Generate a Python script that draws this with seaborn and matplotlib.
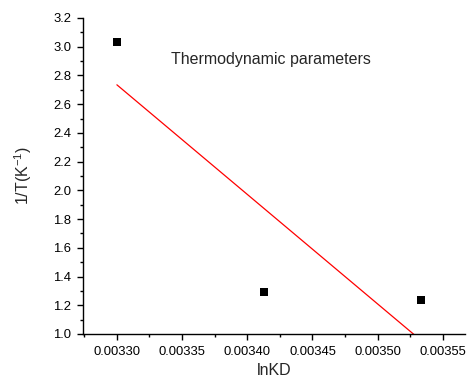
import numpy as np
import pandas as pd
import matplotlib
matplotlib.use("Agg")
import matplotlib.pyplot as plt
import seaborn as sns
from matplotlib.ticker import MultipleLocator, FormatStrFormatter

sns.set_style("ticks")
plt.rcParams['font.family'] = ['Liberation Sans', 'DejaVu Sans']
plt.rcParams['mathtext.fontset'] = 'custom'
plt.rcParams['mathtext.rm'] = 'Liberation Sans'
plt.rcParams['mathtext.it'] = 'Liberation Sans'
plt.rcParams['mathtext.default'] = 'regular'

lnKD = [0.003300, 0.003413, 0.003533]
invT = [3.035, 1.290, 1.240]
title = "Thermodynamic parameters"

df = pd.DataFrame({"lnKD": lnKD, "invT": invT})

fig = plt.figure(figsize=(4.72, 3.80), dpi=100)
ax = fig.add_axes([83/472, 46/380, 382/472, 316/380])

sns.regplot(data=df, x="lnKD", y="invT", ci=None, ax=ax, marker="s", color="black",
            scatter_kws=dict(s=40, color="black", linewidths=0, alpha=1),
            line_kws=dict(color="red", lw=0.9))

ax.set_xlim(0.003274, 0.003567)
ax.set_ylim(1.0, 3.2)
ax.xaxis.set_major_locator(MultipleLocator(0.00005))
ax.xaxis.set_minor_locator(MultipleLocator(0.000025))
ax.xaxis.set_major_formatter(FormatStrFormatter("%.5f"))
ax.yaxis.set_major_locator(MultipleLocator(0.2))
ax.yaxis.set_minor_locator(MultipleLocator(0.1))
ax.yaxis.set_major_formatter(FormatStrFormatter("%.1f"))

for s in ["top", "right"]:
    ax.spines[s].set_visible(False)
for s in ["left", "bottom"]:
    ax.spines[s].set_linewidth(1.0)
    ax.spines[s].set_color("black")
ax.tick_params(which="major", direction="out", length=4.5, width=1.0, labelsize=9.4, colors="black", pad=4)
ax.tick_params(which="minor", direction="out", length=2.5, width=1.0, colors="black")

ax.set_xlabel("lnKD", fontsize=11.5, labelpad=4)
ax.set_ylabel("1/T(K$^{-1}$)", fontsize=11.5, labelpad=14)
ax.text(0.003418, 2.91, title, fontsize=11.5, ha="center", va="center")

fig.savefig("out.png", dpi=100)
